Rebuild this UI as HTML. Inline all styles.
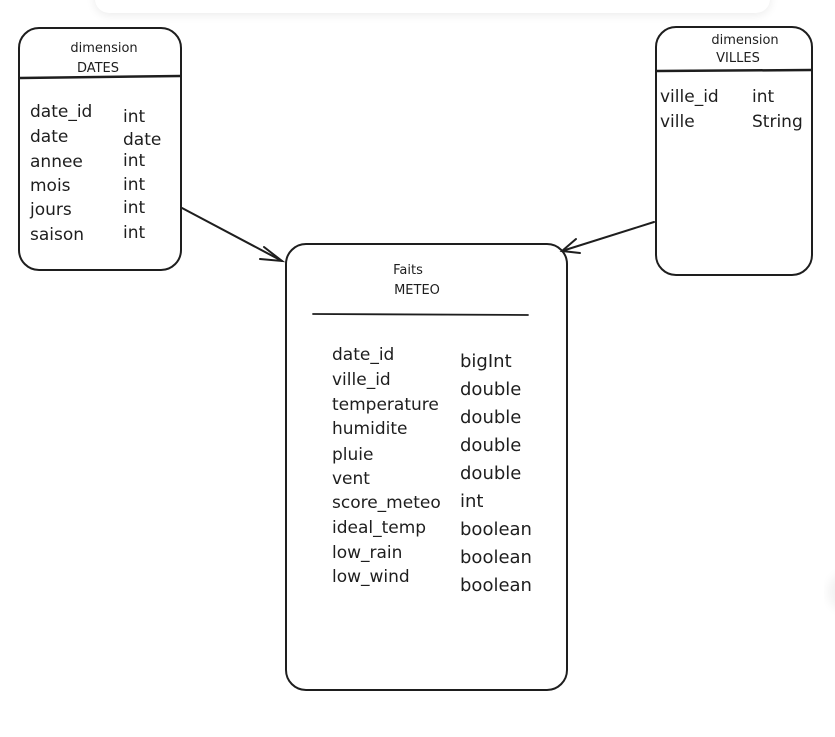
<!DOCTYPE html>
<html><head><meta charset="utf-8"><style>
html,body{margin:0;padding:0;background:#fff;width:835px;height:737px;overflow:hidden}
svg text{font-family:"DejaVu Sans","Liberation Sans",sans-serif;fill:#1e1e1e}
</style></head><body>
<svg width="835" height="737" viewBox="0 0 835 737" xmlns="http://www.w3.org/2000/svg">
<defs><filter id="sh" x="-10%" y="-100%" width="120%" height="300%"><feGaussianBlur stdDeviation="5"/></filter></defs>
<rect x="95" y="-20" width="675" height="35" rx="14" fill="#000" opacity="0.08" filter="url(#sh)"/>
<rect x="95" y="-20" width="675" height="33" rx="14" fill="#fff"/>
<circle cx="848" cy="592" r="20" fill="#000" opacity="0.05" filter="url(#sh)"/>
<g fill="none" stroke="#1e1e1e" stroke-width="2" stroke-linecap="round">
<rect x="19" y="28" width="162" height="242" rx="20"/>
<line x1="20" y1="78" x2="180" y2="76" stroke-width="2.5"/>
<rect x="656" y="27" width="156" height="248" rx="20"/>
<line x1="657" y1="71" x2="811" y2="70" stroke-width="2.5"/>
<rect x="286" y="244" width="281" height="446" rx="20"/>
<line x1="313" y1="314" x2="528" y2="315" stroke-width="1.8"/>
<path d="M182 208 L282 261"/>
<path d="M264 247 L282 261 L260 259"/>
<path d="M654 222 L562 251"/>
<path d="M576 239 L562 251 L580 253"/>
</g>
<g font-size="13" text-anchor="middle">
<text x="104" y="52">dimension</text>
<text x="98" y="72">DATES</text>
<text x="745" y="44">dimension</text>
<text x="738" y="62">VILLES</text>
<text x="408" y="274">Faits</text>
<text x="417" y="294">METEO</text>
</g>
<g font-size="17">
<text x="30" y="117">date_id</text><text x="123" y="122">int</text>
<text x="30" y="142">date</text><text x="123" y="145">date</text>
<text x="30" y="167">annee</text><text x="123" y="166">int</text>
<text x="30" y="191">mois</text><text x="123" y="190">int</text>
<text x="30" y="215">jours</text><text x="123" y="213">int</text>
<text x="30" y="240">saison</text><text x="123" y="238">int</text>
<text x="660" y="102">ville_id</text><text x="752" y="102">int</text>
<text x="660" y="127">ville</text><text x="752" y="127">String</text>
</g>
<g font-size="17">
<text x="332" y="360">date_id</text>
<text x="332" y="385">ville_id</text>
<text x="332" y="410">temperature</text>
<text x="332" y="434">humidite</text>
<text x="332" y="460">pluie</text>
<text x="332" y="484">vent</text>
<text x="332" y="508">score_meteo</text>
<text x="332" y="533">ideal_temp</text>
<text x="332" y="558">low_rain</text>
<text x="332" y="582">low_wind</text>
</g>
<g font-size="18">
<text x="460" y="367">bigInt</text>
<text x="460" y="395">double</text>
<text x="460" y="423">double</text>
<text x="460" y="451">double</text>
<text x="460" y="479">double</text>
<text x="460" y="507">int</text>
<text x="460" y="535">boolean</text>
<text x="460" y="563">boolean</text>
<text x="460" y="591">boolean</text>
</g>
</svg>
</body></html>
